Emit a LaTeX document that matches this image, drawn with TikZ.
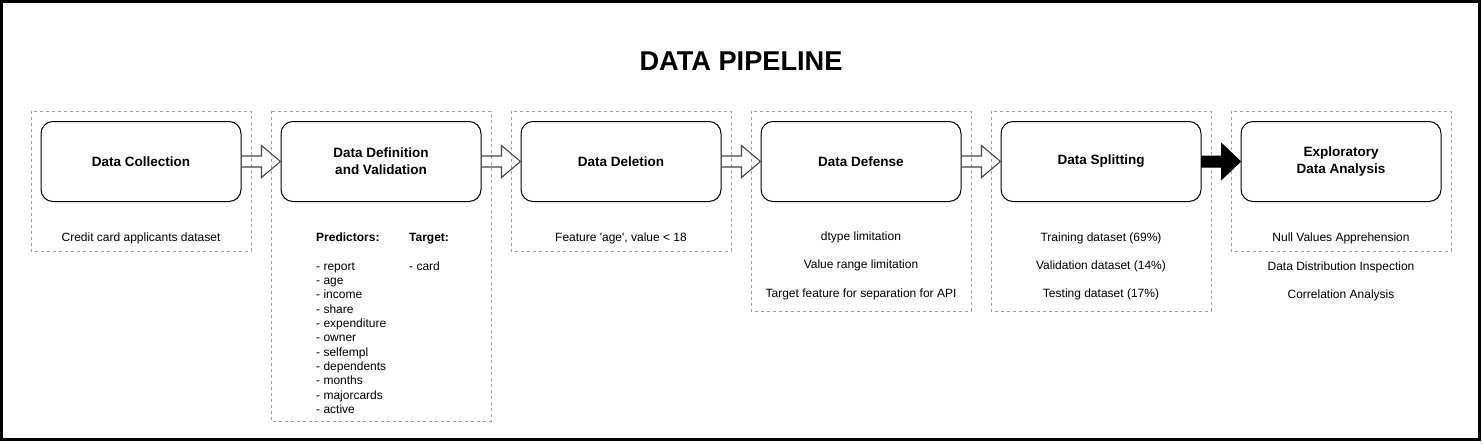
\documentclass[tikz,border=0pt]{standalone}
\usepackage{fontspec}
\setmainfont{Liberation Sans}[Ligatures=TeXOff]
\usetikzlibrary{calc}
\definecolor{dashgray}{RGB}{160,160,160}
\definecolor{arrowgray}{RGB}{70,70,70}
\begin{document}
\begin{tikzpicture}[x=1pt,y=-1pt,
  stagebox/.style={draw=black,line width=1pt,rounded corners=12pt,minimum width=200pt,minimum height=80pt,inner sep=0pt,align=center,font=\fontsize{13.5}{16.8}\selectfont\bfseries},
  groupbox/.style={draw=dashgray,line width=0.8pt,dash pattern=on 3pt off 3pt},
  subtxt/.style={anchor=base,inner sep=0pt,font=\fontsize{12}{14.4}\selectfont},
  listtxt/.style={anchor=base west,inner sep=0pt,font=\fontsize{12}{14.4}\selectfont},
  harrow/.style={draw=arrowgray,line width=1.1pt,line join=miter},
  farrow/.style={draw=black,fill=black,line width=1pt,line join=miter}
]
\useasboundingbox (0,0) rectangle (1483,444);
\draw[line width=3pt] (1.5,1.5) rectangle (1479.5,439.5);

\node[font=\fontsize{27.2}{30}\selectfont\bfseries,inner sep=0pt] (title) at (741,61.5) {DATA PIPELINE};

% dashed group boxes
\draw[groupbox] (31,111) rectangle (251,251);
\draw[groupbox] (271,111) rectangle (491,421);
\draw[groupbox] (511,111) rectangle (731,251);
\draw[groupbox] (751,111) rectangle (971,311);
\draw[groupbox] (991,111) rectangle (1211,311);
\draw[groupbox] (1231,111) rectangle (1451,251);

% stage boxes
\node[stagebox] (s1) at (141,161.5) {Data Collection};
\node[stagebox] (s2) at (381,161.5) {Data Definition\\and Validation};
\node[stagebox] (s3) at (621,161.5) {Data Deletion};
\node[stagebox] (s4) at (861,161.5) {Data Defense};
\node[stagebox] (s5) at (1101,161.5) {Data Splitting};
\node[stagebox] (s6) at (1341,161.5) {Exploratory\\Data Analysis};

% hollow block arrows
\foreach \a/\b in {s1/s2,s2/s3,s3/s4,s4/s5}{
  \draw[harrow] ($(\a.east)+(0,-5.5)$) -- ($(\b.west)+(-19,-5.5)$) -- ($(\b.west)+(-19,-16)$) -- (\b.west)
    -- ($(\b.west)+(-19,16)$) -- ($(\b.west)+(-19,5.5)$) -- ($(\a.east)+(0,5.5)$);
}
% filled block arrow
\fill[farrow] ($(s5.east)+(0,-5.5)$) -- ($(s6.west)+(-19,-5.5)$) -- ($(s6.west)+(-19,-18)$) -- (s6.west)
    -- ($(s6.west)+(-19,18)$) -- ($(s6.west)+(-19,5.5)$) -- ($(s5.east)+(0,5.5)$) -- cycle;

% sub texts
\node[subtxt] (t1) at (141,241) {Credit card applicants dataset};

\node[listtxt,font=\fontsize{12}{14.4}\selectfont\bfseries] (ph) at (316,241) {Predictors:};
\node[listtxt,font=\fontsize{12}{14.4}\selectfont\bfseries] (th) at (409,241) {Target:};
\foreach \t [count=\i] in {report,age,income,share,expenditure,owner,selfempl,dependents,months,majorcards,active}{
  \node[listtxt] (p\i) at (316,{270+(\i-1)*14.37}) {- \t};
}
\node[listtxt] (tc) at (409,270) {- card};

\node[subtxt] (t3) at (621,241) {Feature 'age', value < 18};

\node[subtxt] (d1) at (861,240.5) {dtype limitation};
\node[subtxt] (d2) at (861,268.7) {Value range limitation};
\node[subtxt] (d3) at (861,297.2) {Target feature for separation for API};

\node[subtxt] (sp1) at (1101,241) {Training dataset (69\%)};
\node[subtxt] (sp2) at (1101,269.6) {Validation dataset (14\%)};
\node[subtxt] (sp3) at (1101,297.8) {Testing dataset (17\%)};

\node[subtxt] (e1) at (1341,241) {Null Values Apprehension};
\node[subtxt] (e2) at (1341,270) {Data Distribution Inspection};
\node[subtxt] (e3) at (1341,298.6) {Correlation Analysis};
\end{tikzpicture}
\end{document}
